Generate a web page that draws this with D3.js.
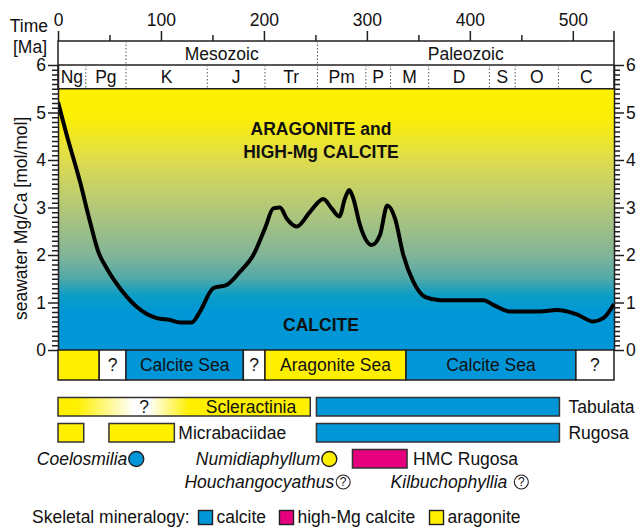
<!DOCTYPE html>
<html>
<head>
<meta charset="utf-8">
<script src="https://cdn.jsdelivr.net/npm/d3@7"></script>
<style>
  body { margin: 0; background: #fff; }
  text { font-family: "Liberation Sans", Arial, sans-serif; fill: #111; }
</style>
</head>
<body>
<script>
// seawater Mg/Ca curve
const ageMa = [0, 8.4, 21.4, 31.1, 39.1, 47.3, 60.2, 76.4, 95.9, 108.8, 118.5, 129.9, 137.9, 150.8,
  163.8, 176.8, 189.7, 201, 209.1, 215.6, 222.1, 231.8, 244.8, 257.7, 265.8, 273.2, 278.7, 282.9,
  286.8, 293.3, 304.7, 312.7, 319.8, 327.3, 335.4, 345.1, 356.4, 371, 413.1, 422.8, 439, 468.1,
  484.4, 503.8, 519.9, 529.6, 540];
const mgCa = [5.22, 4.53, 3.54, 2.70, 2.07, 1.72, 1.30, 0.91, 0.67, 0.63, 0.58, 0.58, 0.81, 1.30,
  1.37, 1.65, 2.0, 2.56, 2.98, 3.0, 2.77, 2.60, 2.91, 3.18, 2.98, 2.81, 3.19, 3.37,
  3.19, 2.63, 2.21, 2.42, 3.04, 2.77, 2.0, 1.44, 1.12, 1.05, 1.05, 0.95, 0.81, 0.81,
  0.84, 0.75, 0.60, 0.67, 0.97];

// time scale
const timeTicks = [0, 100, 200, 300, 400, 500];
const mgTicks = [0, 1, 2, 3, 4, 5, 6];
const eraNames = ["", "Mesozoic", "Paleozoic"];
const eraBounds = [0, 66, 252, 540];
const periodNames = ["Ng", "Pg", "K", "J", "Tr", "Pm", "P", "M", "D", "S", "O", "C"];
const periodBounds = [0, 27, 66, 145, 201, 252, 299, 323, 360, 419, 444, 486, 540];

// sea states
const seaStart = [0, 40, 66, 180, 201, 338, 503];
const seaEnd = [40, 66, 180, 201, 338, 503, 540];
const seaLabel = ["", "?", "Calcite Sea", "?", "Aragonite Sea", "Calcite Sea", "?"];
const seaMineral = ["aragonite", "none", "calcite", "none", "aragonite", "calcite", "none"];

// coral ranges
const rangeTaxon = ["Scleractinia", "Tabulata", "Micrabaciidae", "Micrabaciidae", "Rugosa", "HMC Rugosa"];
const rangeStart = [0, 251, 0, 49.5, 251, 286];
const rangeEnd = [245, 487, 25, 113, 487, 339];
const rangeRow = [0, 0, 1, 1, 1, 2];
const rangeMineral = ["aragonite", "calcite", "aragonite", "aragonite", "calcite", "hmc"];

// single occurrences
const markerTaxon = ["Coelosmilia", "Numidiaphyllum", "Houchangocyathus", "Kilbuchophyllia"];
const markerAge = [76, 263.5, 277, 450];
const markerRow = [2, 2, 3, 3];
const markerMineral = ["calcite", "aragonite", "unknown", "unknown"];

const legendNames = ["calcite", "high-Mg calcite", "aragonite"];
const legendKeys = ["calcite", "hmc", "aragonite"];

const colors = {calcite: "#0096d8", aragonite: "#fff000", hmc: "#e6007e", none: "#ffffff", unknown: "#ffffff"};
const ink = "#231f20";
const font = 17.5;

const W = 638, H = 527;
const svg = d3.select("body").append("svg")
  .attr("width", W).attr("height", H);

const x = d3.scaleLinear().domain([0, 540]).range([58, 614]);
const y = d3.scaleLinear().domain([0, 6]).range([350, 65]);
const boxTop = 41;

// background gradient
const defs = svg.append("defs");
const grad = defs.append("linearGradient")
  .attr("id", "mg").attr("gradientUnits", "userSpaceOnUse")
  .attr("x1", 0).attr("x2", 0).attr("y1", y(5.5)).attr("y2", y(0));
const stops = [[5.5, "#fff100"], [4.85, "#fbee08"], [4.0, "#dedc4e"], [3.0, "#b3c878"],
  [2.0, "#82b498"], [1.5, "#4fa9a8"], [1.15, "#0c9dc6"], [0.8, "#0097d6"], [0, "#0096d8"]];
grad.selectAll("stop").data(stops).join("stop")
  .attr("offset", d => (y(d[0]) - y(5.5)) / (y(0) - y(5.5)))
  .attr("stop-color", d => d[1]);

svg.append("rect")
  .attr("x", x(0)).attr("y", y(5.5))
  .attr("width", x(540) - x(0)).attr("height", y(0) - y(5.5))
  .attr("fill", "url(#mg)");

// region labels
const big = svg.append("g").attr("font-weight", "bold").attr("text-anchor", "middle")
  .attr("font-size", font);
big.append("text").attr("x", 321).attr("y", 135).text("ARAGONITE and");
big.append("text").attr("x", 321).attr("y", 157.5).text("HIGH-Mg CALCITE");
big.append("text").attr("x", 321).attr("y", 331).text("CALCITE");

// curve
const pts = ageMa.map((a, i) => [a, mgCa[i]]);
defs.append("clipPath").attr("id", "clip").append("rect")
  .attr("x", x(0)).attr("y", y(6)).attr("width", x(540) - x(0)).attr("height", y(0) - y(6));
svg.append("path")
  .datum(pts)
  .attr("clip-path", "url(#clip)")
  .attr("fill", "none")
  .attr("stroke", "#000")
  .attr("stroke-width", 4)
  .attr("stroke-linejoin", "round")
  .attr("d", d3.line().x(d => x(d[0])).y(d => y(d[1])).curve(d3.curveMonotoneX));

// era / period header
const hdr = svg.append("g");
hdr.append("rect")
  .attr("x", x(0)).attr("y", boxTop).attr("width", x(540) - x(0)).attr("height", y(5.5) - boxTop)
  .attr("fill", "#fff").attr("stroke", ink).attr("stroke-width", 1.5);
hdr.append("line")
  .attr("x1", x(0)).attr("x2", x(540)).attr("y1", y(6)).attr("y2", y(6))
  .attr("stroke", ink).attr("stroke-width", 1.5);

hdr.selectAll(".eradiv").data(eraBounds.slice(1, -1)).join("line")
  .attr("x1", d => x(d)).attr("x2", d => x(d)).attr("y1", boxTop).attr("y2", y(6))
  .attr("stroke", "#555").attr("stroke-width", 1).attr("stroke-dasharray", "1.5,2");
hdr.selectAll(".perdiv").data(periodBounds.slice(1, -1)).join("line")
  .attr("x1", d => x(d)).attr("x2", d => x(d)).attr("y1", y(6)).attr("y2", y(5.5))
  .attr("stroke", "#555").attr("stroke-width", 1).attr("stroke-dasharray", "1.5,2");

hdr.selectAll(".era").data(eraNames).join("text")
  .attr("x", (d, i) => (x(eraBounds[i]) + x(eraBounds[i + 1])) / 2)
  .attr("y", 59.5)
  .attr("text-anchor", "middle").attr("font-size", font)
  .text(d => d);
hdr.selectAll(".per").data(periodNames).join("text")
  .attr("x", (d, i) => (x(periodBounds[i]) + x(periodBounds[i + 1])) / 2)
  .attr("y", 83)
  .attr("text-anchor", "middle").attr("font-size", font)
  .text(d => d);

// axes
function styleAxis(g) {
  g.attr("font-family", null).attr("font-size", font);
  g.selectAll("path, line").attr("stroke", ink).attr("stroke-width", 1.5);
  g.selectAll("text").attr("fill", "#111");
}

const xTop = svg.append("g").attr("transform", `translate(0,${boxTop})`)
  .call(d3.axisTop(x).tickValues(timeTicks).tickFormat(d3.format("d"))
    .tickSize(10).tickSizeOuter(10).tickPadding(5))
  .call(styleAxis);
xTop.select(".domain").attr("stroke", "none");
svg.append("g").attr("transform", `translate(0,${boxTop})`)
  .call(d3.axisTop(x).tickValues([50, 150, 250, 350, 450]).tickSize(6).tickSizeOuter(0).tickFormat(""))
  .call(styleAxis)
  .call(g => g.select(".domain").remove());
svg.append("line").attr("x1", x(540)).attr("x2", x(540)).attr("y1", boxTop - 10).attr("y2", boxTop)
  .attr("stroke", ink).attr("stroke-width", 1.5);

const minorY = d3.range(1, 60).filter(i => i % 10 !== 0).map(i => i / 10);
[[x(0), d3.axisLeft], [x(540), d3.axisRight]].forEach(([px, ax]) => {
  svg.append("g").attr("transform", `translate(${px},0)`)
    .call(ax(y).tickValues(minorY).tickSize(6).tickSizeOuter(0).tickFormat(""))
    .call(styleAxis)
    .call(g => g.select(".domain").remove());
  svg.append("g").attr("transform", `translate(${px},0)`)
    .call(ax(y).tickValues(mgTicks).tickFormat(d3.format("d"))
      .tickSize(10).tickSizeOuter(0).tickPadding(2))
    .call(styleAxis);
});

// axis titles
svg.append("text").attr("x", 48).attr("y", 31.5).attr("text-anchor", "end")
  .attr("font-size", font).text("Time");
svg.append("text").attr("x", 47).attr("y", 52.5).attr("text-anchor", "end")
  .attr("font-size", font).text("[Ma]");
svg.append("text")
  .attr("transform", `translate(27,${(y(0) + y(5.5)) / 2 - 1}) rotate(-90)`)
  .attr("text-anchor", "middle").attr("font-size", font)
  .text("seawater Mg/Ca [mol/mol]");

// sea state bar
const seaTop = y(0), seaH = 30;
const sea = svg.append("g").selectAll("g").data(seaLabel).join("g");
sea.append("rect")
  .attr("x", (d, i) => x(seaStart[i])).attr("y", seaTop)
  .attr("width", (d, i) => x(seaEnd[i]) - x(seaStart[i])).attr("height", seaH)
  .attr("fill", (d, i) => colors[seaMineral[i]])
  .attr("stroke", ink).attr("stroke-width", 1.5);
sea.append("text")
  .attr("x", (d, i) => (x(seaStart[i]) + x(seaEnd[i])) / 2)
  .attr("y", seaTop + 21)
  .attr("text-anchor", "middle").attr("font-size", font)
  .text(d => d);

// taxon ranges
const rowTop = [397.5, 423.5, 449.5];
const rowH = 18.5;
defs.append("linearGradient")
  .attr("id", "scl")
  .selectAll("stop")
  .data([[0, "#fff000"], [0.075, "#fff000"], [0.3, "#ffffff"], [0.36, "#ffffff"], [0.52, "#fff000"], [1, "#fff000"]])
  .join("stop").attr("offset", d => d[0]).attr("stop-color", d => d[1]);

svg.append("g").selectAll("rect").data(rangeTaxon).join("rect")
  .attr("x", (d, i) => x(rangeStart[i])).attr("y", (d, i) => rowTop[rangeRow[i]])
  .attr("width", (d, i) => x(rangeEnd[i]) - x(rangeStart[i])).attr("height", rowH)
  .attr("fill", (d, i) => d === "Scleractinia" ? "url(#scl)" : colors[rangeMineral[i]])
  .attr("stroke", "#333").attr("stroke-width", 1.5);

// one label per taxon, right of its last box
const sideLabels = [...new Set(rangeTaxon)].filter(t => t !== "Scleractinia");
const gap = {"HMC Rugosa": 6, "Micrabaciidae": 4};
svg.append("g").selectAll("text").data(sideLabels).join("text")
  .attr("x", d => x(rangeEnd[rangeTaxon.lastIndexOf(d)]) + (gap[d] || 9))
  .attr("y", d => rowTop[rangeRow[rangeTaxon.lastIndexOf(d)]] + 15.5)
  .attr("font-size", font)
  .text(d => d);

const scl = rangeTaxon.indexOf("Scleractinia");
svg.append("text").attr("x", x(rangeEnd[scl]) - 14).attr("y", rowTop[0] + 15.5)
  .attr("text-anchor", "end").attr("font-size", font).text("Scleractinia");
svg.append("text").attr("x", 144).attr("y", rowTop[0] + 15.5)
  .attr("text-anchor", "middle").attr("font-size", font).text("?");

// single occurrence markers
const markerY = {2: 459, 3: 482};
const labelGap = {"Kilbuchophyllia": 14};
const mk = svg.append("g").selectAll("g").data(markerTaxon).join("g")
  .attr("transform", (d, i) => `translate(${x(markerAge[i])},${markerY[markerRow[i]]})`);
mk.append("circle")
  .attr("r", (d, i) => markerMineral[i] === "unknown" ? 7 : 7.5)
  .attr("fill", (d, i) => colors[markerMineral[i]])
  .attr("stroke", ink).attr("stroke-width", (d, i) => markerMineral[i] === "unknown" ? 1.1 : 1.4);
mk.filter((d, i) => markerMineral[i] === "unknown").append("text")
  .attr("y", 4).attr("text-anchor", "middle").attr("font-size", 12).text("?");
mk.append("text")
  .attr("x", d => -(labelGap[d] || 9))
  .attr("y", 6)
  .attr("text-anchor", "end").attr("font-size", font).attr("font-style", "italic")
  .text(d => d);

// mineralogy legend
const lg = svg.append("g");
lg.append("text").attr("x", 32).attr("y", 522.5).attr("font-size", font).text("Skeletal mineralogy:");
const legX = [198.5, 279.5, 429.5];
const li = lg.selectAll("g").data(legendNames).join("g")
  .attr("transform", (d, i) => `translate(${legX[i]},510.5)`);
li.append("rect").attr("width", 14).attr("height", 14)
  .attr("fill", (d, i) => colors[legendKeys[i]])
  .attr("stroke", ink).attr("stroke-width", 1.4);
li.append("text").attr("x", 18).attr("y", 12.5).attr("font-size", font).text(d => d);
</script>
</body>
</html>
